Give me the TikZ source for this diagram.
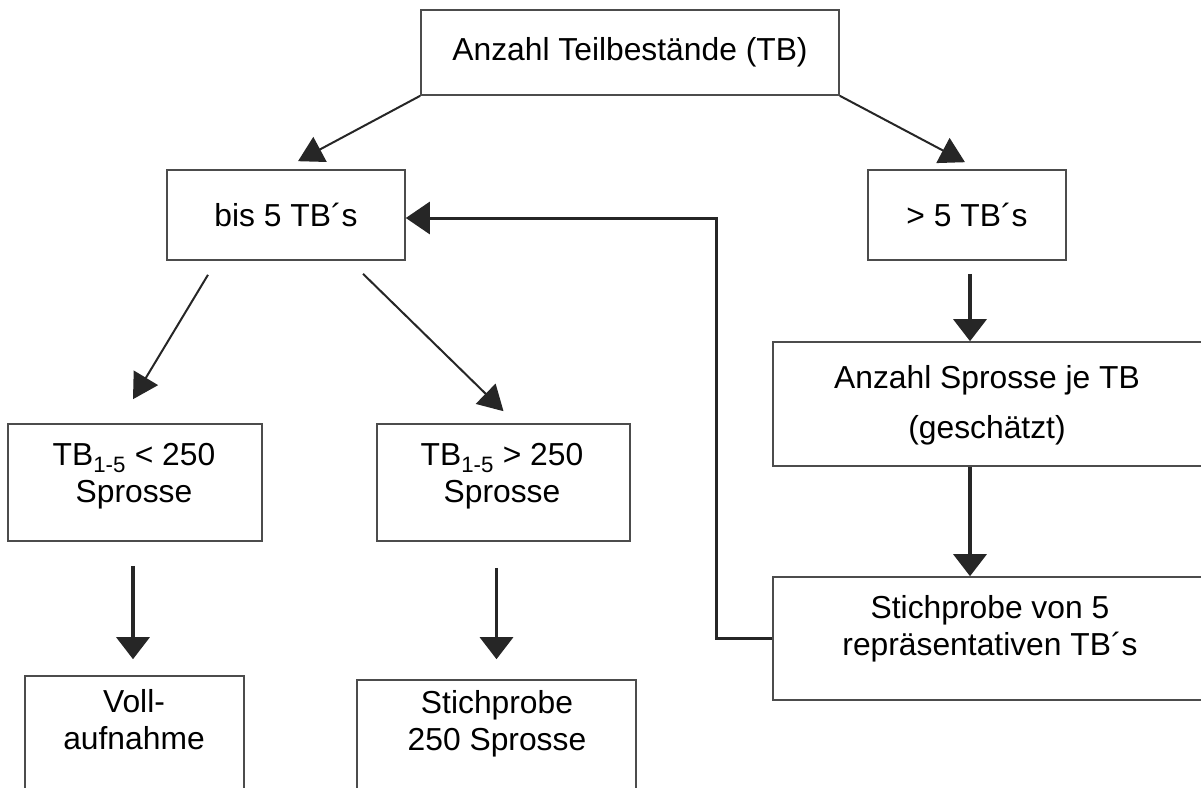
\documentclass[tikz,border=0pt]{standalone}
\usepackage{fontspec}
\setmainfont{Liberation Sans}
\usetikzlibrary{arrows.meta}

\tikzset{
  box/.style={draw=black!70, line width=1.6pt, rectangle, inner sep=0pt, align=center, font=\fontsize{31.8}{37}\selectfont},
  txt/.style={align=center, inner sep=0pt, font=\fontsize{31.8}{37}\selectfont},
  thinarr/.style={draw=black!85, line width=2pt, -{Triangle[length=25pt,width=28pt]}},
  thickarr/.style={draw=black!85, line width=3.3pt, -{Triangle[length=22pt,width=33pt]}},
  backarr/.style={draw=black!85, line width=3pt, -{Triangle[length=24pt,width=32pt]}}
}

\begin{document}
\begin{tikzpicture}[x=1pt,y=-1pt]
\useasboundingbox (0,0) rectangle (1201,787);
\clip (0,0) rectangle (1201,787);

% boxes
\node[box, minimum width=418pt, minimum height=85pt] (anzahl) at (630,52.5) {Anzahl Teilbestände (TB)};
\node[box, minimum width=238pt, minimum height=90pt] (bis) at (286,215) {bis 5 TB´s};
\node[box, minimum width=198pt, minimum height=90pt] (mehr) at (967,215) {> 5 TB´s};
\node[box, minimum width=429pt, minimum height=124pt] (sprosse) at (987.5,404) {};
\node[box, minimum width=429pt, minimum height=123pt] (stich5) at (987.5,638.5) {};
\node[box, minimum width=254pt, minimum height=117pt] (klein) at (135,482.5) {};
\node[box, minimum width=253pt, minimum height=117pt] (gross) at (503.5,482.5) {};
\node[box, minimum width=219pt, minimum height=150pt] (voll) at (134.5,751) {};
\node[box, minimum width=279pt, minimum height=150pt] (stich250) at (496.5,755) {};

% texts
\node[txt] (sprosse-t) at (987,405) {Anzahl Sprosse je TB\\[13pt](geschätzt)};
\node[txt] (stich5-t) at (990,629) {Stichprobe von 5\\repräsentativen TB´s};
\node[txt] (klein-t) at (134,476) {TB\textsubscript{1-5} < 250\\Sprosse};
\node[txt] (gross-t) at (502,476) {TB\textsubscript{1-5} > 250\\Sprosse};
\node[txt] (voll-t) at (134,720) {Voll-\\aufnahme};
\node[txt] (stich250-t) at (497,724) {Stichprobe\\250 Sprosse};

% arrows
\draw[thinarr] (anzahl.south west) -- ([xshift=12pt,yshift=8pt]bis.north);
\draw[thinarr] (anzahl.south east) -- ([xshift=-2pt,yshift=7pt]mehr.north);
\draw[thinarr] ([xshift=-78pt,yshift=-14pt]bis.south) -- ([xshift=-2pt,yshift=24pt]klein.north);
\draw[thinarr] ([xshift=77pt,yshift=-13pt]bis.south) -- ([yshift=12pt]gross.north);
\draw[thickarr] ([xshift=-2pt,yshift=-24pt]klein.south) -- ([xshift=-1.5pt,yshift=16pt]voll.north);
\draw[thickarr] ([yshift=-26pt]gross.south -| stich250.north) -- ([yshift=20pt]stich250.north);
\draw[thickarr] ([xshift=3pt,yshift=-13pt]mehr.south) -- ([xshift=3pt]mehr.south |- sprosse.north);
\draw[thickarr] ([xshift=3pt]mehr.south |- sprosse.south) -- ([xshift=3pt]mehr.south |- stich5.north);
\draw[backarr] (stich5.west) -- ++(-56,0) |- ([yshift=-3pt]bis.east);
\end{tikzpicture}
\end{document}
